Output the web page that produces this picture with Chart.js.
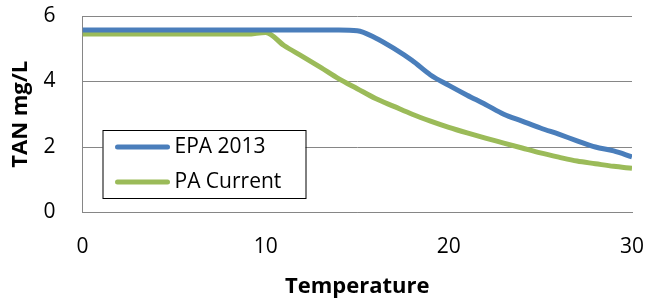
<!DOCTYPE html>
<html>
<head>
<meta charset="utf-8">
<script src="https://cdn.jsdelivr.net/npm/chart.js@4/dist/chart.umd.min.js"></script>
<style>
  html, body { margin: 0; padding: 0; background: #fff; }
  #chart { display: block; }
</style>
</head>
<body>
<canvas id="chart" width="646" height="302"></canvas>
<script>
// values, one per degree
const temperatures = [0, 1, 2, 3, 4, 5, 6, 7, 8, 9, 10, 11, 12, 13, 14, 15,
  16, 17, 18, 19, 20, 21, 22, 23, 24, 25, 26, 27, 28, 29, 30];
const epa2013 = [5.57, 5.57, 5.57, 5.57, 5.57, 5.57, 5.57, 5.57, 5.57, 5.57,
  5.57, 5.57, 5.57, 5.57, 5.57, 5.55, 5.33, 5.01, 4.64, 4.2, 3.88, 3.58, 3.3,
  3.0, 2.79, 2.58, 2.39, 2.19, 2.0, 1.88, 1.7];
const paCurrent = [5.45, 5.45, 5.45, 5.45, 5.45, 5.45, 5.45, 5.45, 5.45, 5.45,
  5.5, 5.1, 4.77, 4.43, 4.08, 3.78, 3.48, 3.24, 3.0, 2.79, 2.6, 2.43, 2.27,
  2.12, 1.97, 1.82, 1.69, 1.57, 1.49, 1.41, 1.35];
const seriesNames = ['EPA 2013', 'PA Current'];
const xTicks = [0, 10, 20, 30];
const yTicks = [0, 2, 4, 6];

const FONT = "'Open Sans', sans-serif";
const GRID = '#868686';

// legend box drawn inside the plot, bottom left
const boxLegend = {
  id: 'boxLegend',
  afterDraw(chart) {
    const ctx = chart.ctx;
    const area = chart.chartArea;
    const x = area.left + 20;
    const y = area.bottom - 82.5;
    const w = 203;
    const h = 68;
    ctx.save();
    ctx.fillStyle = '#fff';
    ctx.fillRect(x, y, w, h);
    ctx.strokeStyle = '#000';
    ctx.lineWidth = 1;
    ctx.strokeRect(x + 0.5, y + 0.5, w, h);
    ctx.font = '21px ' + FONT;
    ctx.textBaseline = 'middle';
    chart.data.datasets.forEach((ds, i) => {
      const rowY = y + 17 + i * 35;
      ctx.strokeStyle = ds.borderColor;
      ctx.lineWidth = 5;
      ctx.lineCap = 'round';
      ctx.beginPath();
      ctx.moveTo(x + 15, rowY);
      ctx.lineTo(x + 65, rowY);
      ctx.stroke();
      ctx.fillStyle = '#000';
      ctx.fillText(ds.label, x + 72, rowY);
    });
    ctx.restore();
  }
};

const toPoints = values => temperatures.map((t, i) => ({ x: t, y: values[i] }));

new Chart(document.querySelector('#chart'), {
  type: 'line',
  data: {
    datasets: [{
      label: seriesNames[0],
      data: toPoints(epa2013),
      borderColor: '#4a7ebb',
      borderWidth: 5,
      pointRadius: 0,
      cubicInterpolationMode: 'monotone'
    }, {
      label: seriesNames[1],
      data: toPoints(paCurrent),
      borderColor: '#9bbb59',
      borderWidth: 5,
      pointRadius: 0,
      cubicInterpolationMode: 'monotone'
    }]
  },
  options: {
    responsive: false,
    animation: false,
    devicePixelRatio: 1,
    layout: { padding: { top: 16, right: 14, bottom: 0, left: 0 } },
    plugins: {
      legend: { display: false },
      tooltip: { enabled: false }
    },
    scales: {
      x: {
        type: 'linear',
        min: 0,
        max: 30,
        afterBuildTicks: scale => { scale.ticks = xTicks.map(v => ({ value: v })); },
        afterFit: scale => { scale.height = 89.5; },
        // invisible tick marks push the labels down without adding side padding
        grid: { color: 'transparent', tickColor: 'transparent', drawTicks: true, tickLength: 22 },
        border: { display: true, color: GRID, width: 1 },
        ticks: { color: '#000', padding: 0, font: { family: FONT, size: 21 } },
        title: {
          display: true,
          text: 'Temperature',
          color: '#000',
          padding: { top: 0, bottom: 2 },
          font: { family: FONT, size: 22, weight: 'bold' }
        }
      },
      y: {
        min: 0,
        max: 6,
        afterBuildTicks: scale => { scale.ticks = yTicks.map(v => ({ value: v })); },
        afterFit: scale => { scale.width = 82.5; },
        grid: { color: GRID, tickColor: 'transparent', drawTicks: true, tickLength: 27 },
        border: { display: true, color: GRID, width: 1 },
        ticks: { color: '#000', padding: 0, font: { family: FONT, size: 21 } },
        title: {
          display: true,
          text: 'TAN mg/L',
          color: '#000',
          padding: { top: 8, bottom: 0 },
          font: { family: FONT, size: 22, weight: 'bold' }
        }
      }
    }
  },
  plugins: [boxLegend]
});
</script>
</body>
</html>
